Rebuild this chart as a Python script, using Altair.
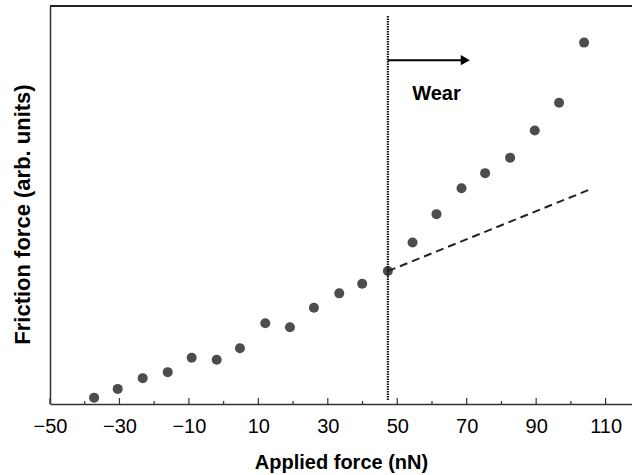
import altair as alt
import pandas as pd

# Data
applied_force = [-37.3, -30.5, -23.3, -16.1, -9.2, -2.0, 4.7, 12.0, 19.1, 26.0, 33.3,
                 39.9, 47.3, 54.4, 61.3, 68.5, 75.3, 82.5, 89.6, 96.6, 103.8]
friction_force = [1.6, 3.8, 6.5, 8.0, 11.6, 11.1, 14.0, 20.3, 19.3, 24.2, 27.8,
                  30.2, 33.4, 40.6, 47.7, 54.2, 58.0, 61.9, 68.7, 75.7, 90.8]

x_tick_labels = [-50, -30, -10, 10, 30, 50, 70, 90, 110]
x_minor_ticks = [-40, -20, 0, 20, 40, 60, 80, 100]

wear_onset_x = 47.3
wear_line_y = [1.0, 97.5]
dash_x = [47.3, 105.2]
dash_y = [33.4, 53.8]
arrow_x = [47.3, 69.0]
arrow_head_x = 69.6
arrow_y = 86.4
label_x = 61.3
label_y = 77.9
label_text = "Wear"

X_DOMAIN = [-50, 117.6]
Y_DOMAIN = [0, 100]
W, H = 582, 398
FONT = "Liberation Sans"

xs = alt.Scale(domain=X_DOMAIN, nice=False, zero=False)
ys = alt.Scale(domain=Y_DOMAIN, nice=False, zero=False)

pts = pd.DataFrame({"x": applied_force, "y": friction_force})

base_points = alt.Chart(pts).mark_circle(size=100, color="#4d4d4d", opacity=1).encode(
    x=alt.X("x:Q", scale=xs, axis=alt.Axis(
        title="Applied force (nN)", values=x_tick_labels, ticks=False, tickSize=0,
        grid=False, labelFontSize=20, labelFont=FONT, labelColor="#000",
        labelBaseline="alphabetic", labelPadding=28, labelFlush=False,
        titleFontSize=20, titleFont=FONT, titleFontWeight="bold", titleColor="#000",
        titleBaseline="alphabetic", titleY=64,
        domainColor="#333", domainWidth=1.5)),
    y=alt.Y("y:Q", scale=ys, axis=alt.Axis(
        title="Friction force (arb. units)", labels=False, ticks=False, grid=False,
        titleFontSize=22, titleFont=FONT, titleFontWeight="bold", titleColor="#000",
        titleAngle=270, titleBaseline="alphabetic", titleAlign="center",
        titleX=-21, titleY=208,
        domainColor="#333", domainWidth=1.5)),
)

major = alt.Chart(pd.DataFrame({"t": x_tick_labels})).mark_rule(color="#333", strokeWidth=1.2).encode(
    x=alt.X("t:Q", scale=xs), y=alt.value(H), y2=alt.value(H - 6))
minor = alt.Chart(pd.DataFrame({"t": x_minor_ticks})).mark_rule(color="#333", strokeWidth=1.2).encode(
    x=alt.X("t:Q", scale=xs), y=alt.value(H), y2=alt.value(H - 3))

top_border = alt.Chart(pd.DataFrame({"a": [0]})).mark_rule(color="#222", strokeWidth=2).encode(
    x=alt.value(0), x2=alt.value(W), y=alt.value(0))

vline = alt.Chart(pd.DataFrame({"x": [wear_onset_x], "y1": [wear_line_y[0]], "y2": [wear_line_y[1]]})).mark_rule(
    color="#111", strokeWidth=2.2, strokeDash=[1.5, 1]).encode(
    x=alt.X("x:Q", scale=xs), y=alt.Y("y1:Q", scale=ys), y2="y2:Q")

dash = alt.Chart(pd.DataFrame({"x": dash_x, "y": dash_y})).mark_line(
    color="#222", strokeWidth=2, strokeDash=[8, 5]).encode(
    x=alt.X("x:Q", scale=xs), y=alt.Y("y:Q", scale=ys))

arrow = alt.Chart(pd.DataFrame({"x": [arrow_x[0]], "x2": [arrow_x[1]], "y": [arrow_y]})).mark_rule(
    color="#000", strokeWidth=2).encode(
    x=alt.X("x:Q", scale=xs), x2="x2:Q", y=alt.Y("y:Q", scale=ys))
head = alt.Chart(pd.DataFrame({"x": [arrow_head_x], "y": [arrow_y]})).mark_point(
    shape="triangle-right", filled=True, size=110, color="#000", opacity=1).encode(
    x=alt.X("x:Q", scale=xs), y=alt.Y("y:Q", scale=ys))

label = alt.Chart(pd.DataFrame({"x": [label_x], "y": [label_y], "t": [label_text]})).mark_text(
    font=FONT, fontSize=20, fontWeight="bold", color="#000", align="center", baseline="middle").encode(
    x=alt.X("x:Q", scale=xs), y=alt.Y("y:Q", scale=ys), text="t:N")

chart = alt.layer(base_points, major, minor, top_border, vline, dash, arrow, head, label).properties(
    width=W, height=H,
    autosize=alt.AutoSizeParams(type="none"),
    padding={"left": 50, "top": 6, "right": 0, "bottom": 71},
    background="white",
).configure_view(stroke=None)

chart.save("out.html", embed_options={"renderer": "svg", "actions": False})
